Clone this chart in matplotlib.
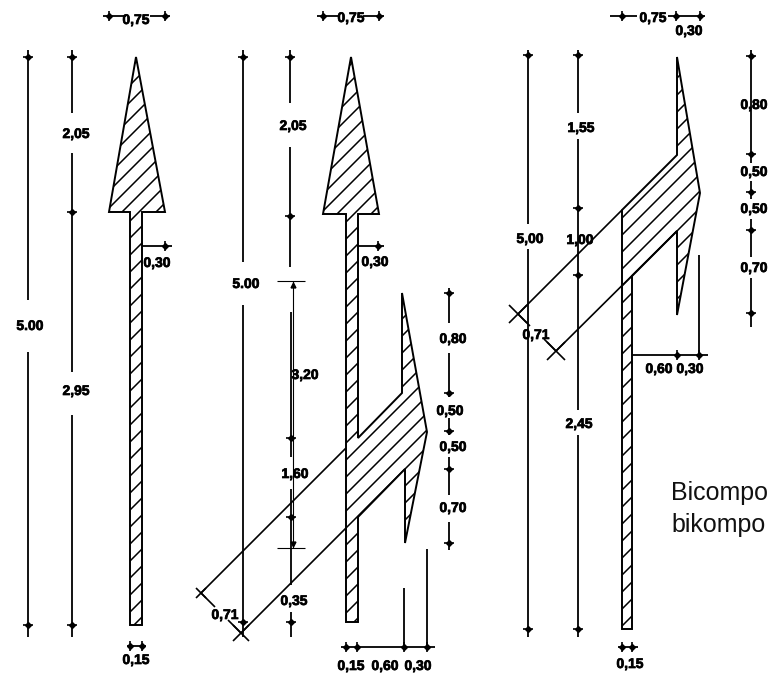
#!/usr/bin/env python3
"""
Road arrow marking drawing, three arrows with dimension lines
"""
import matplotlib
matplotlib.use('Agg')
import matplotlib.pyplot as plt
import matplotlib.patheffects as pe
import numpy as np
from matplotlib.patches import Polygon

# Outlines in picture pixels
arrow_straight = [(136, 57), (165, 212), (142, 212), (142, 625), (130, 625), (130, 212), (109, 212)]
arrow_double = [(351, 57), (379, 214), (358, 214), (358, 438), (402, 393), (402, 293), (427, 432),
                (405, 543), (405, 469), (358, 517), (358, 622), (346, 622), (346, 214), (323, 214)]
arrow_turn = [(677, 57), (700, 193), (677, 315), (677, 231), (632, 276), (632, 629), (622, 629),
              (622, 210), (677, 155)]
# x + y value of one hatch stroke in each arrow
hatch_phase = [317, 823, 857]
HATCH_STEP = 17

# Plain drawn lines: (x1, y1, x2, y2)
lines_heavy = [
    # left drawing
    (28, 50, 28, 300), (28, 352, 28, 637), (72, 50, 72, 113), (72, 153, 72, 372), (72, 415, 72, 637),
    (103, 16, 126, 16), (150, 16, 170, 16), (142, 246, 172, 246), (127, 646, 146, 646),
    # middle drawing
    (243, 50, 243, 262), (243, 305, 243, 637), (290, 50, 290, 103), (290, 147, 290, 267),
    (291, 312, 291, 457), (291, 489, 291, 585), (291, 612, 291, 637),
    (317, 16, 340, 16), (363, 16, 384, 16), (358, 246, 384, 246),
    (449, 288, 449, 323), (449, 353, 449, 397), (449, 418, 449, 435), (449, 457, 449, 495),
    (449, 522, 449, 550), (341, 647, 435, 647), (404, 588, 404, 647), (427, 549, 427, 647),
    # right drawing
    (528, 50, 528, 224), (528, 249, 528, 637), (578, 50, 578, 113), (578, 139, 578, 410),
    (578, 435, 578, 637), (610, 16, 637, 16), (668, 16, 705, 16),
    (751, 50, 751, 163), (751, 181, 751, 199), (751, 219, 751, 257), (751, 278, 751, 327),
    (632, 355, 708, 355), (699, 255, 699, 355), (618, 647, 638, 647),
]
lines_diagonal = [
    (346, 448, 201, 593), (346, 528, 241, 633), (201, 593, 215, 607), (228, 620, 241, 633),
    (622, 210, 518, 314), (677, 231, 556, 351), (518, 314, 530, 326), (544, 339, 556, 351),
]
lines_thin = [(277, 281, 305, 281), (277, 548, 305, 548), (293, 281, 293, 548)]
crosses = [(201, 593, 5), (241, 633, 8), (518, 314, 9), (556, 351, 9)]
thin_heads = [(293, 285, '^'), (293, 544, 'v')]

# Dimension ticks
ticks_on_vertical = [
    (28, 57), (28, 625), (72, 57), (72, 212), (72, 625),
    (243, 57), (243, 622), (290, 57), (290, 216), (291, 438), (291, 517), (291, 622),
    (449, 293), (449, 393), (449, 431), (449, 469), (449, 543),
    (528, 55), (528, 629), (578, 55), (578, 208), (578, 275), (578, 629),
    (751, 56), (751, 154), (751, 192), (751, 230), (751, 313),
]
ticks_on_horizontal = [
    (109, 16), (165, 16), (165, 246), (130, 646), (142, 646),
    (323, 16), (379, 16), (378, 246), (346, 647), (357, 647), (404, 647), (427, 647),
    (622, 16), (676, 16), (700, 16), (677, 355), (699, 355), (622, 647), (632, 647),
]

# Dimension labels
dim_labels = [
    (136, 20, '0,75'), (76, 134, '2,05'), (30, 326, '5.00'), (76, 391, '2,95'), (157, 263, '0,30'),
    (136, 660, '0,15'),
    (351, 18, '0,75'), (293, 126, '2,05'), (246, 284, '5.00'), (375, 262, '0,30'), (305, 375, '3,20'),
    (295, 474, '1,60'), (294, 601, '0,35'), (225, 615, '0,71'), (453, 339, '0,80'), (450, 411, '0,50'),
    (453, 447, '0,50'), (453, 508, '0,70'), (351, 666, '0,15'), (385, 666, '0,60'), (418, 666, '0,30'),
    (653, 18, '0,75'), (689, 31, '0,30'), (530, 239, '5,00'), (581, 128, '1,55'), (580, 240, '1,00'),
    (536, 335, '0,71'), (579, 424, '2,45'), (659, 369, '0,60'), (690, 369, '0,30'), (630, 664, '0,15'),
    (754, 105, '0,80'), (754, 172, '0,50'), (754, 209, '0,50'), (754, 268, '0,70'),
]
note_lines = [(671, 500, 'Bicompo'), (671, 532, 'bikompo')]


def draw_lines(ax, segments, width):
    for x1, y1, x2, y2 in segments:
        ax.plot([x1, x2], [y1, y2], color='black', lw=width, solid_capstyle='butt', zorder=3)


def draw_arrow(ax, outline, phase):
    patch = Polygon(outline, closed=True, facecolor='white', edgecolor='black', lw=1.4, zorder=2)
    ax.add_patch(patch)
    # the 45 degree hatch, clipped to the arrow so the spacing and phase can be set
    xs = [p[0] for p in outline]
    ys = [p[1] for p in outline]
    for c in np.arange(phase - 40 * HATCH_STEP, phase + 40 * HATCH_STEP, HATCH_STEP):
        if c < min(xs) + min(ys) or c > max(xs) + max(ys):
            continue
        stroke, = ax.plot([min(xs), max(xs)], [c - min(xs), c - max(xs)], color='black', lw=1.1, zorder=2.5)
        stroke.set_clip_path(patch)


def main():
    fig = plt.figure(figsize=(7.68, 6.75), dpi=100)
    ax = fig.add_axes([0, 0, 1, 1])
    ax.set_xlim(0, 768)
    ax.set_ylim(675, 0)
    ax.axis('off')

    for outline, phase in zip((arrow_straight, arrow_double, arrow_turn), hatch_phase):
        draw_arrow(ax, outline, phase)

    draw_lines(ax, lines_heavy, 1.3)
    draw_lines(ax, lines_diagonal, 1.2)
    draw_lines(ax, lines_thin, 0.8)

    for x, y, size in crosses:
        draw_lines(ax, [(x - size, y - size, x + size, y + size), (x - size, y + size, x + size, y - size)], 1.2)
    for x, y, head in thin_heads:
        ax.plot(x, y, head, color='black', ms=3.5, zorder=4)

    # tick = short cross stroke plus a small diamond on the line
    for x, y in ticks_on_vertical:
        draw_lines(ax, [(x - 5, y, x + 5, y)], 1.2)
        ax.plot(x, y, 'D', color='black', ms=3, zorder=4)
    for x, y in ticks_on_horizontal:
        draw_lines(ax, [(x, y - 5, x, y + 5)], 1.2)
        ax.plot(x, y, 'D', color='black', ms=3, zorder=4)

    for x, y, label in dim_labels:
        ax.text(x, y, label, ha='center', va='center', fontsize=10, fontweight='bold',
                family='Liberation Sans', color='black', zorder=5,
                path_effects=[pe.withStroke(linewidth=0.5, foreground='black')])

    for x, y, label in note_lines:
        ax.text(x, y, label, ha='left', va='baseline', fontsize=18, family='Liberation Sans',
                color='#111111', zorder=5)

    fig.savefig('out.png', dpi=100, facecolor='white')


if __name__ == "__main__":
    main()
